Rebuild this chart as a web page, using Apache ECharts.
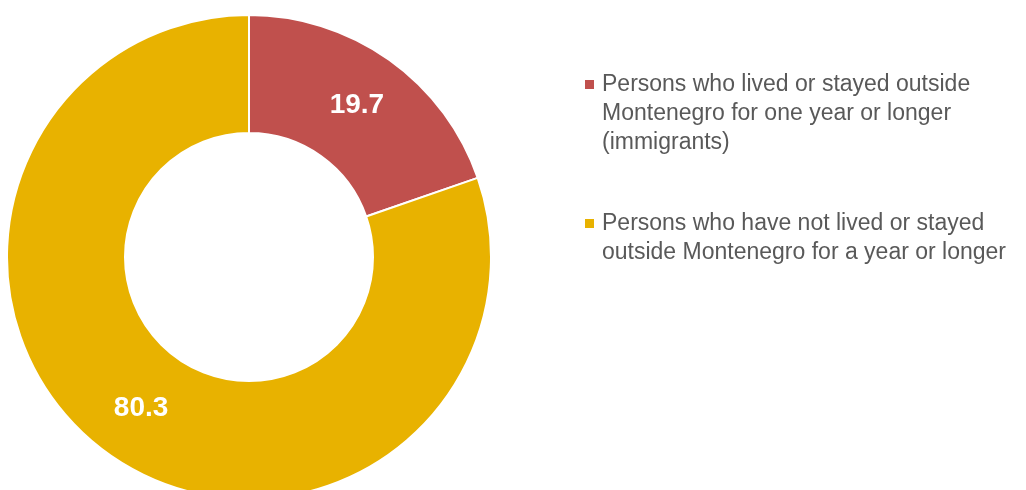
<!DOCTYPE html>
<html>
<head>
<meta charset="utf-8">
<script src="https://cdn.jsdelivr.net/npm/echarts@6/dist/echarts.min.js"></script>
<style>html,body{margin:0;padding:0;background:#fff;}#c{width:1026px;height:490px;}</style>
</head>
<body>
<div id="c"></div>
<script>
const categories = [
  'Persons who lived or stayed outside Montenegro for one year or longer (immigrants)',
  'Persons who have not lived or stayed outside Montenegro for a year or longer'
];
const legendLines = [
  ['Persons who lived or stayed outside', 'Montenegro for one year or longer', '(immigrants)'],
  ['Persons who have not lived or stayed', 'outside Montenegro for a year or longer']
];
const values = [19.7, 80.3];
const colors = ['#C0504D', '#E8B200'];

const FONT = '"Liberation Sans", Arial, sans-serif';
const chart = echarts.init(document.getElementById('c'));
const rich = {
  g: {width: 8},
  sp: {width: 17},
  t: {fontSize: 23, lineHeight: 29, color: '#595959', fontFamily: FONT}
};
colors.forEach((c, i) => {
  rich['sq' + i] = {width: 9, height: 9, backgroundColor: c, verticalAlign: 'middle'};
});
chart.setOption({
  animation: false,
  textStyle: {fontFamily: FONT},
  legend: {
    orient: 'vertical',
    left: 579,
    top: 70,
    icon: 'none',
    itemWidth: 1,
    itemHeight: 1,
    itemGap: 52,
    padding: 0,
    selectedMode: false,
    data: categories,
    formatter: function (name) {
      const i = categories.indexOf(name);
      return legendLines[i].map((l, k) =>
        (k === 0 ? '{sq' + i + '| }{g|}' : '{sp|}') + '{t|' + l + '}'
      ).join('\n');
    },
    textStyle: {rich: rich, lineHeight: 29, fontSize: 23, fontFamily: FONT}
  },
  series: [{
    type: 'pie',
    center: [249, 257],
    radius: [124, 242],
    startAngle: 90,
    clockwise: true,
    avoidLabelOverlap: false,
    itemStyle: {borderColor: '#ffffff', borderWidth: 2},
    label: {
      show: true,
      position: 'inside',
      formatter: p => p.value.toFixed(1),
      color: '#ffffff',
      fontWeight: 'bold',
      fontSize: 28,
      fontFamily: FONT
    },
    labelLine: {show: false},
    emphasis: {disabled: true},
    data: categories.map((n, i) => ({name: n, value: values[i], itemStyle: {color: colors[i]}}))
  }]
});
</script>
</body>
</html>
